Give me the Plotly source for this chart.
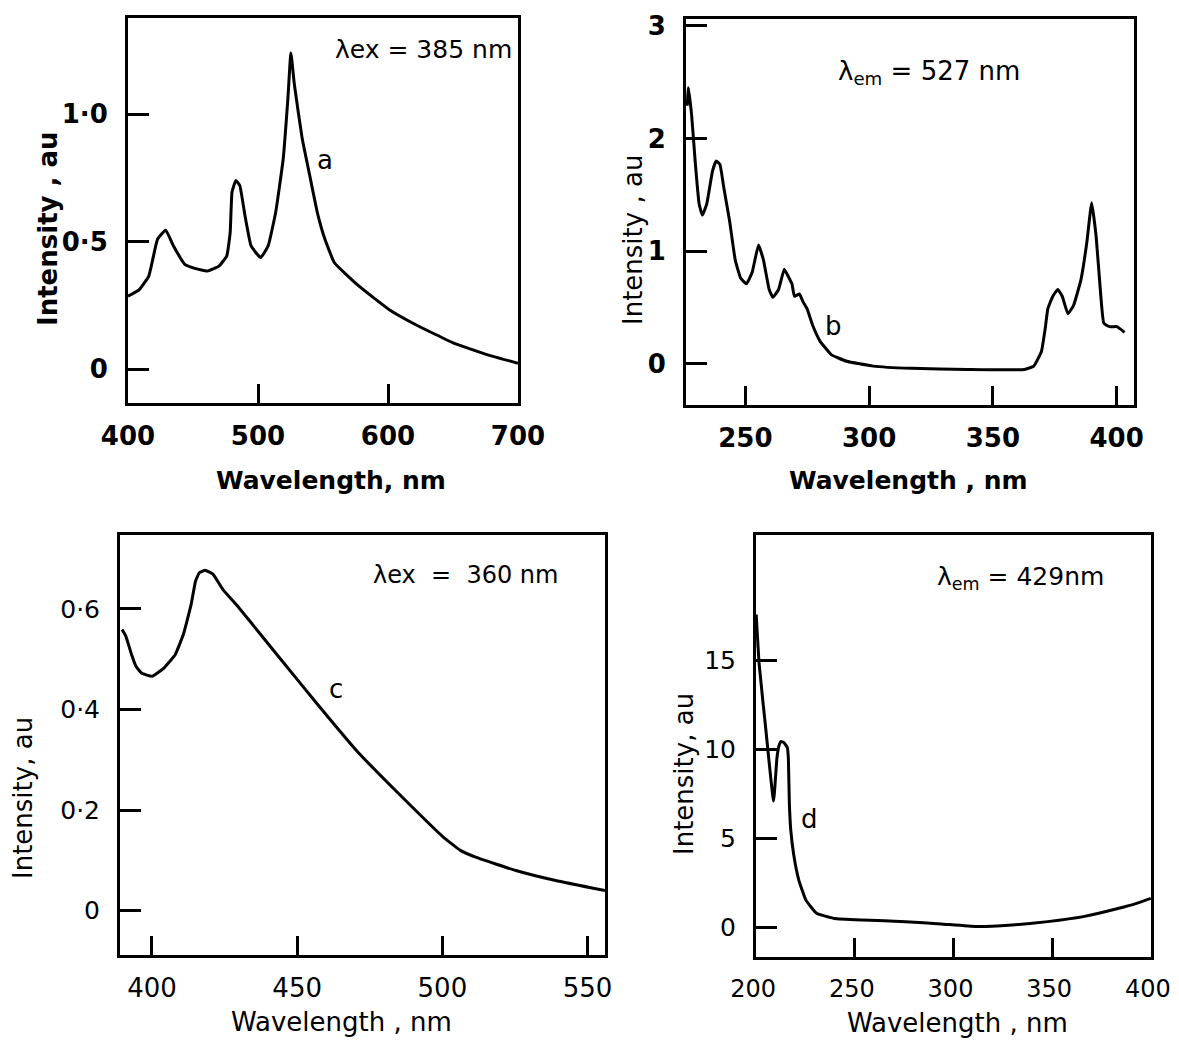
import plotly.graph_objects as go

# page offset: the html body has an 8px margin on every side, so the figure is
# drawn from (8, 8) and is kept small enough to avoid scrollbars
PAGE_W, PAGE_H, OFF = 1179, 1046, 8
W, H = PAGE_W - 2 * OFF, PAGE_H - 2 * OFF

# ---------------- data ----------------
a_wl = [400, 408.7, 416, 422.7, 429, 435, 443.7, 452, 461, 470, 476, 478.6, 480, 483, 486, 490,
        494.7, 502, 507.8, 513.6, 519.4, 523, 525.3, 528, 534, 539.8, 545.6, 551.5, 558.8,
        577.7, 601, 621.4, 650.5, 676.7, 700]
a_int = [0.287, 0.313, 0.366, 0.51, 0.546, 0.484, 0.412, 0.395, 0.386, 0.405, 0.445, 0.537, 0.695,
         0.741, 0.721, 0.603, 0.484, 0.438, 0.484, 0.616, 0.826, 1.063, 1.241, 1.116, 0.905, 0.76,
         0.616, 0.51, 0.418, 0.326, 0.234, 0.175, 0.103, 0.057, 0.024]

b_wl = [226.5, 227, 228.3, 229.8, 231.3, 232.6, 234.4, 236.7, 238.2, 239.7, 241.3, 243.6, 245.9,
        248.1, 250.4, 252.7, 255.3, 257.3, 259.6, 261.1, 263.4, 265.7, 267.2, 268.8, 269.8, 271.8,
        273.3, 274.9, 277.2, 280.2, 284.8, 290.9, 301.6, 316.9, 339.8, 362.7, 366.5, 369.6, 371.1,
        372.2, 374.2, 376.2, 378, 380.3, 382.6, 385.6, 387.9, 389.9, 391.7, 393.6, 394.8, 397.1,
        400.1, 403.2]
b_int = [2.29, 2.45, 2.2, 1.77, 1.42, 1.32, 1.42, 1.71, 1.8, 1.77, 1.56, 1.27, 0.92, 0.76, 0.71,
         0.81, 1.055, 0.92, 0.66, 0.59, 0.66, 0.84, 0.78, 0.71, 0.6, 0.62, 0.55, 0.49, 0.34, 0.2,
         0.08, 0.023, -0.02, -0.04, -0.05, -0.05, -0.02, 0.11, 0.31, 0.49, 0.6, 0.66, 0.6, 0.445,
         0.52, 0.75, 1.07, 1.43, 1.13, 0.6, 0.36, 0.33, 0.33, 0.28]

c_wl = [389.7, 391, 393, 394.5, 396.5, 400, 404, 408, 410.8, 413.5, 415, 416.3, 418.3, 421, 424.4,
        430, 443.5, 457.2, 470.8, 484.4, 500.4, 506.2, 511.7, 525.3, 539, 556]
c_int = [0.559, 0.546, 0.509, 0.486, 0.472, 0.466, 0.482, 0.509, 0.549, 0.609, 0.655, 0.672, 0.677,
         0.669, 0.639, 0.602, 0.506, 0.409, 0.316, 0.236, 0.146, 0.12, 0.106, 0.08, 0.06, 0.04]

d_wl = [200, 201.5, 205, 208.8, 210.5, 211.5, 212.5, 214, 215.8, 216.3, 216.8, 217.5, 219, 221.6,
        225.2, 230.6, 239.6, 254, 275.7, 293.7, 311.7, 329.7, 347.8, 365.8, 383.8, 392.8, 400]
d_int = [17.6, 14.8, 11.0, 7.1, 9.5, 10.2, 10.45, 10.4, 10.1, 9.5, 7.0, 5.5, 4.1, 2.66, 1.53, 0.79,
         0.5, 0.41, 0.32, 0.19, 0.04, 0.13, 0.32, 0.6, 1.07, 1.35, 1.63]

a_xticks = [400, 500, 600, 700]
a_yticks = [0, 0.5, 1.0]
a_ylabels = ["0", "0·5", "1·0"]
b_xticks = [250, 300, 350, 400]
b_yticks = [0, 1, 2, 3]
c_xticks = [400, 450, 500, 550]
c_yticks = [0, 0.2, 0.4, 0.6]
c_ylabels = ["0", "0·2", "0·4", "0·6"]
d_xticks = [200, 250, 300, 350, 400]
d_yticks = [0, 5, 10, 15]

# ---------------- layout helpers ----------------
def fx(p):
    return (p - OFF) / W

def fy(p):
    return 1 - (p - OFF) / H

FONT = "DejaVu Sans"
line_style = dict(color="black", width=3, shape="spline", smoothing=0.35)

fig = go.Figure()
for wl, it, xa, ya in [(a_wl, a_int, "x", "y"), (b_wl, b_int, "x2", "y2"),
                       (c_wl, c_int, "x3", "y3"), (d_wl, d_int, "x4", "y4")]:
    fig.add_trace(go.Scatter(x=wl, y=it, xaxis=xa, yaxis=ya, mode="lines",
                             line=line_style, showlegend=False, hoverinfo="skip"))

def xaxis(domain, rng, ticks, anchor, size=26, weight="normal", shift=0):
    return dict(domain=domain, range=rng, tickvals=ticks, anchor=anchor, automargin=False,
                showline=True, mirror=True, linecolor="black", linewidth=3,
                ticks="inside", ticklen=19, tickwidth=2.5, tickcolor="black",
                showgrid=False, zeroline=False, ticklabelstandoff=8,
                ticklabeloverflow="allow", ticklabelshift=shift,
                tickfont=dict(family=FONT, size=size, color="black", weight=weight))

def yaxis(domain, rng, ticks, anchor, labels=None, size=26, weight="normal"):
    d = dict(domain=domain, range=rng, tickvals=ticks, anchor=anchor, automargin=False,
             showline=True, mirror=True, linecolor="black", linewidth=3,
             ticks="inside", ticklen=21, tickwidth=2.5, tickcolor="black",
             showgrid=False, zeroline=False, ticklabelstandoff=12,
             ticklabeloverflow="allow",
             tickfont=dict(family=FONT, size=size, color="black", weight=weight))
    if labels is not None:
        d["ticktext"] = labels
    return d

layout = dict(
    width=W, height=H, autosize=False,
    margin=dict(l=0, r=0, t=0, b=0, pad=0),
    paper_bgcolor="white", plot_bgcolor="white",
    xaxis=xaxis([fx(128), fx(518)], [400, 700], a_xticks, "y", weight="bold"),
    yaxis=yaxis([fy(403), fy(18)], [-0.132, 1.378], a_yticks, "x", a_ylabels, weight="bold"),
    xaxis2=xaxis([fx(686), fx(1134)], [226, 407], b_xticks, "y2", weight="bold"),
    yaxis2=yaxis([fy(405), fy(19)], [-0.365, 3.06], b_yticks, "x2", weight="bold"),
    xaxis3=xaxis([fx(120), fx(605)], [389, 556], c_xticks, "y3"),
    yaxis3=yaxis([fy(955), fy(535)], [-0.088, 0.747], c_yticks, "x3", c_ylabels, size=25),
    xaxis4=xaxis([fx(756), fx(1151)], [199.9, 400.1], d_xticks, "y4", size=24, shift=-3),
    yaxis4=yaxis([fy(957), fy(535)], [-1.67, 22.07], d_yticks, "x4", size=25),
)
fig.update_layout(**layout)

ann = []
def ptext(x, y, text, size=27, angle=0, bold=False):
    ann.append(dict(x=fx(x), y=fy(y), xref="paper", yref="paper", text=text,
                    showarrow=False, textangle=angle, xanchor="center", yanchor="middle",
                    font=dict(family=FONT, size=size, color="black",
                              weight="bold" if bold else "normal")))

# axis titles
ptext(331, 480, "Wavelength, nm", 25, bold=True)
ptext(908, 480, "Wavelength , nm", 25, bold=True)
ptext(341, 1022, "Wavelength , nm", 26)
ptext(957, 1023, "Wavelength , nm", 26)
ptext(48, 229, "Intensity , au", 26, angle=-90, bold=True)
ptext(633, 240, "Intensity , au", 26, angle=-90)
ptext(23, 798, "Intensity, au", 26, angle=-90)
ptext(684, 774, "Intensity, au", 26, angle=-90)

# excitation / emission labels
ptext(423, 50, "λex = 385 nm", 25)
ptext(929, 72, "λ<sub>em</sub> = 527 nm", 26)
ptext(465, 575, "λex  =  360 nm", 24)
ptext(1020, 578, "λ<sub>em</sub> = 429nm", 25)

# curve labels in data coordinates
for xa, ya, x, y, t in [("x", "y", 551.5, 0.82, "a"), ("x2", "y2", 285.6, 0.34, "b"),
                        ("x3", "y3", 463.3, 0.44, "c"), ("x4", "y4", 227, 6.1, "d")]:
    ann.append(dict(x=x, y=y, xref=xa, yref=ya, text=t, showarrow=False,
                    font=dict(family=FONT, size=26, color="black")))

fig.update_layout(annotations=ann)
fig.write_html("out.html")
